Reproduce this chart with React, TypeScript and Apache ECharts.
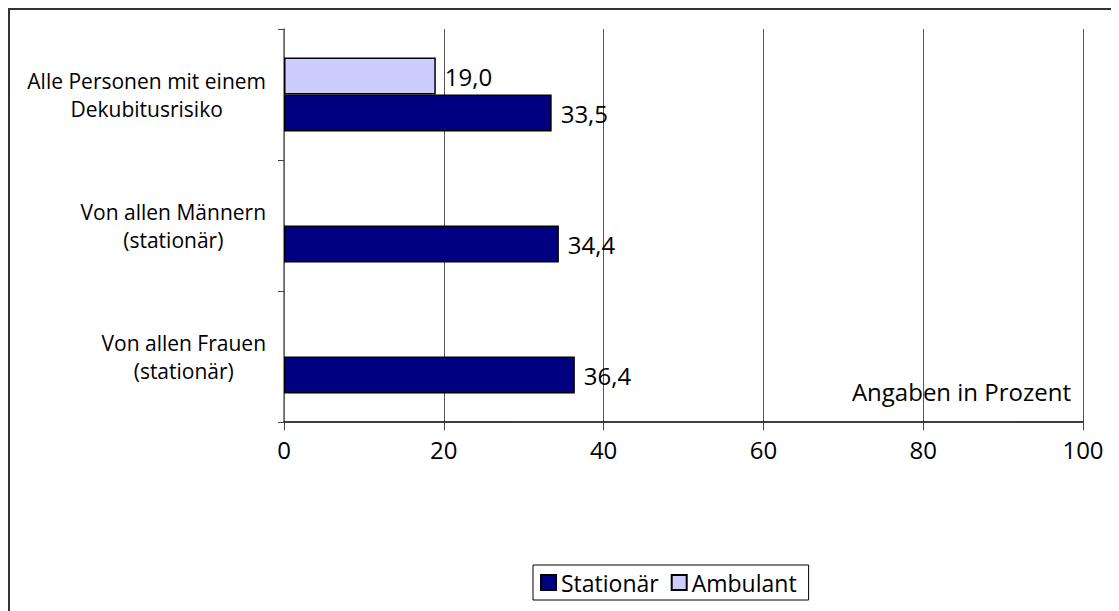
import React, { useEffect, useRef } from "react";
import * as echarts from "echarts";

const categories = [
  "Alle Personen mit einem\nDekubitusrisiko",
  "Von allen Männern\n(stationär)",
  "Von allen Frauen\n(stationär)",
];
const ambulant: (number | null)[] = [19.0, null, null];
const stationaer = [33.5, 34.4, 36.4];
const xTicks = [0, 20, 40, 60, 80, 100];
const unitNote = "Angaben in Prozent";

const FONT = "'Open Sans', 'Noto Sans', sans-serif";

export default function App() {
  const ref = useRef<HTMLDivElement>(null);
  useEffect(() => {
    if (!ref.current) return;
    const chart = echarts.init(ref.current, null, { renderer: "svg" });
    const fmt = (p: any) =>
      p.value == null ? "" : Number(p.value).toFixed(1).replace(".", ",");
    const labelCfg = {
      show: true,
      position: "right",
      distance: 9,
      color: "#000",
      fontFamily: FONT,
      fontSize: 24,
      formatter: fmt,
    };
    chart.setOption({
      animation: false,
      textStyle: { fontFamily: FONT },
      grid: { left: 274, top: 19, width: 799, height: 393, containLabel: false },
      legend: {
        data: ["Stationär", "Ambulant"],
        left: 523,
        top: 555,
        padding: [6, 12, 6, 7],
        borderColor: "#000",
        borderWidth: 1,
        itemWidth: 15,
        itemHeight: 15,
        itemGap: 12,
        icon: "rect",
        itemStyle: { borderColor: "#000", borderWidth: 2 },
        textStyle: { fontFamily: FONT, fontSize: 23, color: "#000" },
      },
      xAxis: {
        type: "value",
        min: xTicks[0],
        max: xTicks[xTicks.length - 1],
        interval: 20,
        axisLine: { show: true, lineStyle: { color: "#000", width: 1.5 } },
        axisTick: { show: true, length: 8, lineStyle: { color: "#444" } },
        axisLabel: {
          margin: 15,
          fontSize: 24,
          color: "#000",
          fontFamily: FONT,
        },
        splitLine: { show: true, lineStyle: { color: "#555", width: 1 } },
      },
      yAxis: {
        type: "category",
        data: categories,
        inverse: true,
        axisLine: { show: true, lineStyle: { color: "#666", width: 1.5 } },
        axisTick: { show: true, length: 6, lineStyle: { color: "#444" } },
        axisLabel: {
          margin: 18,
          align: "right",
          color: "#000",
          fontFamily: FONT,
          fontSize: 21,
          lineHeight: 28,
          formatter: (v: string) =>
            v
              .split("\n")
              .map((l) => "{c|" + l + "}")
              .join("\n"),
          rich: {
            c: {
              align: "center",
              fontFamily: FONT,
              fontSize: 21,
              lineHeight: 28,
              color: "#000",
            },
          },
        },
      },
      series: [
        {
          name: "Ambulant",
          type: "bar",
          data: ambulant,
          barWidth: 37,
          barGap: "0%",
          itemStyle: { color: "#CCCCFF", borderColor: "#000", borderWidth: 1.5 },
          label: labelCfg,
        },
        {
          name: "Stationär",
          type: "bar",
          data: stationaer,
          barWidth: 37,
          barGap: "0%",
          itemStyle: { color: "#000080", borderColor: "#000", borderWidth: 1.5 },
          label: labelCfg,
        },
      ],
      graphic: [
        {
          type: "text",
          right: 1109 - 1061,
          top: 369,
          style: {
            text: unitNote,
            fontFamily: FONT,
            fontSize: 24,
            fill: "#000",
          },
        },
      ],
    });
    return () => chart.dispose();
  }, []);
  return (
    <div
      style={{
        borderTop: "2px solid #333",
        borderLeft: "2px solid #333",
        width: 1109,
        height: 601,
      }}
    >
      <div ref={ref} style={{ width: 1109, height: 601 }} />
    </div>
  );
}
